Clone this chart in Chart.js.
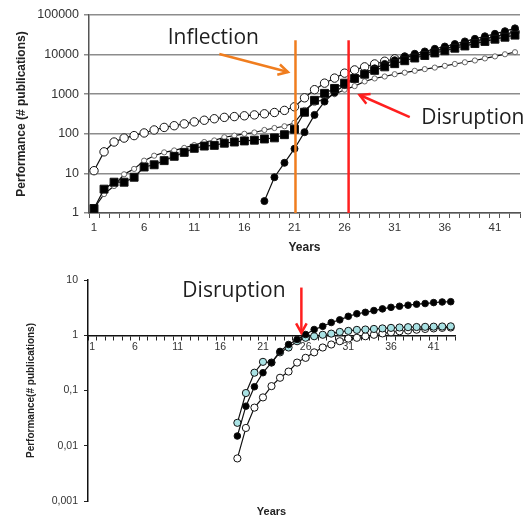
<!DOCTYPE html>
<html>
<head>
<meta charset="utf-8">
<script src="https://cdn.jsdelivr.net/npm/chart.js@4.4.0/dist/chart.umd.min.js"></script>
<style>
  body { margin: 0; background: #fff; }
  #wrap { position: relative; width: 529px; height: 520px; }
  .box { position: absolute; left: 0; width: 529px; }
  #top { top: 0; height: 262px; }
  #bottom { top: 265px; height: 255px; }
</style>
</head>
<body>
<div id="wrap">
  <div class="box" id="top"><canvas id="topChart"></canvas></div>
  <div class="box" id="bottom"><canvas id="bottomChart"></canvas></div>
</div>
<script>
// ---- data ----
var years = ['1','2','3','4','5','6','7','8','9','10','11','12','13','14','15','16','17','18','19','20','21',
  '22','23','24','25','26','27','28','29','30','31','32','33','34','35','36','37','38','39','40','41','42','43'];

// top chart: publications, log scale
var openCircles = [11.7, 35, 62, 78, 90, 105, 125, 145, 160, 178, 200, 220, 240, 260, 272, 285, 300, 320, 345, 390, 480,
  810, 1300, 1900, 2550, 3400, 4100, 4900, 5800, 6800, 7800, 8600, 9400, 10700, 12400, 14100, 16300, 18800, 21800, 25000, 28700, 32700, 37800];
var smallCircles = [1.3, 3, 4.8, 9.5, 13, 21, 28, 34, 38, 44, 52, 62, 68, 82, 90, 100, 108, 125, 140, 155, 190,
  400, 600, 780, 1000, 1300, 1600, 2100, 2500, 2800, 3200, 3500, 3900, 4300, 4700, 5200, 5800, 6400, 7100, 8000, 9000, 10200, 11500];
var blackSquares = [1.3, 4, 6, 6, 8, 14.5, 16.5, 21, 27, 34, 43, 49, 51, 58, 62, 66, 69, 74, 79, 95, 130,
  350, 700, 1050, 1400, 1900, 2500, 3200, 4000, 4900, 5900, 7000, 8200, 9500, 11000, 12500, 14500, 16500, 19000, 21500, 24500, 27500, 31000];
var blackCircles = [null, null, null, null, null, null, null, null, null, null, null, null, null, null, null, null, null, 2, 8, 18.5, 42,
  110, 300, 650, 1100, 1700, 2500, 3400, 4500, 5800, 7200, 9000, 10500, 12000, 14000, 16000, 18500, 21500, 25000, 29000, 33500, 39000, 46000];
var topTicks = [1, 10, 100, 1000, 10000, 100000];
var topTickLabels = ['1', '10', '100', '1000', '10000', '100000'];

// bottom chart: relative performance, log scale
var relBlack = [null, null, null, null, null, null, null, null, null, null, null, null, null, null, null, null, null, 0.015, 0.052, 0.117, 0.21,
  0.32, 0.51, 0.68, 0.84, 1.03, 1.27, 1.45, 1.7, 1.9, 2.2, 2.45, 2.6, 2.8, 3.0, 3.2, 3.35, 3.5, 3.65, 3.75, 3.9, 4.0, 4.05];
var relCyan = [null, null, null, null, null, null, null, null, null, null, null, null, null, null, null, null, null, 0.026, 0.09, 0.21, 0.33,
  0.32, 0.49, 0.6, 0.78, 0.9, 0.96, 1.02, 1.07, 1.15, 1.2, 1.25, 1.27, 1.3, 1.33, 1.36, 1.38, 1.4, 1.41, 1.42, 1.43, 1.44, 1.45];
var relOpen = [null, null, null, null, null, null, null, null, null, null, null, null, null, null, null, null, null, 0.0059, 0.021, 0.049, 0.075,
  0.12, 0.17, 0.22, 0.32, 0.39, 0.49, 0.6, 0.68, 0.78, 0.87, 0.9, 0.96, 1.02, 1.08, 1.13, 1.18, 1.22, 1.26, 1.3, 1.33, 1.36, 1.38];
var bottomTicks = [0.001, 0.01, 0.1, 1, 10];
var bottomTickLabels = ['0,001', '0,01', '0,1', '1', '10'];

// annotations, in data units: [year, value]
var inflectionYear = 21.1, disruptionYear = 26.4, markerTop = 23000;

var ORANGE = '#f07d1e', RED = '#ff1f1f';
var AXISFONT = 'Liberation Sans, Arial, sans-serif';
var NOTEFONT = '"Open Sans", "Noto Sans", sans-serif';

// ---- small plugin for lines / arrows / text drawn in data coordinates ----
function arrowHead(ctx, x0, y0, x1, y1, len) {
  var a = Math.atan2(y1 - y0, x1 - x0);
  ctx.beginPath();
  ctx.moveTo(x1 - len * Math.cos(a - 0.5), y1 - len * Math.sin(a - 0.5));
  ctx.lineTo(x1, y1);
  ctx.lineTo(x1 - len * Math.cos(a + 0.5), y1 - len * Math.sin(a + 0.5));
  ctx.stroke();
}

var notesPlugin = {
  id: 'notes',
  afterDatasetsDraw: function(chart, args, opts) {
    var ctx = chart.ctx, xs = chart.scales.x, ys = chart.scales.y;
    var px = function(yr) { return xs.getPixelForValue(yr - 1); };
    var py = function(v) { return ys.getPixelForValue(v); };
    ctx.save();
    ctx.lineCap = 'butt';
    (opts.vlines || []).forEach(function(l) {
      ctx.strokeStyle = l.color; ctx.lineWidth = 2.5;
      ctx.beginPath();
      ctx.moveTo(px(l.year), py(l.from));
      ctx.lineTo(px(l.year), py(l.to));
      ctx.stroke();
    });
    (opts.arrows || []).forEach(function(a) {
      var x0 = px(a.from[0]), y0 = py(a.from[1]), x1 = px(a.to[0]), y1 = py(a.to[1]);
      ctx.strokeStyle = a.color; ctx.lineWidth = 2.5;
      ctx.beginPath(); ctx.moveTo(x0, y0); ctx.lineTo(x1, y1); ctx.stroke();
      arrowHead(ctx, x0, y0, x1, y1, 11);
    });
    (opts.texts || []).forEach(function(t) {
      ctx.fillStyle = '#1e1e1e';
      ctx.font = t.size + 'px ' + NOTEFONT;
      ctx.textAlign = 'center'; ctx.textBaseline = 'middle';
      ctx.fillText(t.text, px(t.at[0]), py(t.at[1]));
    });
    ctx.restore();
  }
};

function series(data, opts) {
  return Object.assign({
    data: data, xAxisID: 'x', yAxisID: 'y',
    borderColor: '#111', borderWidth: 1.2, tension: 0, spanGaps: false,
    pointBorderColor: '#111', pointBorderWidth: 1, pointHoverRadius: 0
  }, opts);
}

// ---- top chart (first dataset is drawn on top) ----
new Chart(document.getElementById('topChart'), {
  type: 'line',
  data: {
    labels: years,
    datasets: [
      series(blackSquares, { pointStyle: 'rect', pointRadius: 5.6, pointBackgroundColor: '#000' }),
      series(blackCircles, { pointStyle: 'circle', pointRadius: 3.5, pointBackgroundColor: '#000' }),
      series(smallCircles, { pointStyle: 'circle', pointRadius: 2.6, pointBackgroundColor: '#fff', pointBorderColor: '#666' }),
      series(openCircles, { pointStyle: 'circle', pointRadius: 4.2, pointBackgroundColor: '#fff' })
    ]
  },
  options: {
    responsive: true, maintainAspectRatio: false, animation: false,
    layout: { padding: { top: 15, right: 9, left: 0, bottom: 0 } },
    plugins: {
      legend: { display: false }, tooltip: { enabled: false },
      notes: {
        vlines: [
          { year: inflectionYear, from: 1, to: markerTop, color: ORANGE },
          { year: disruptionYear, from: 1, to: markerTop, color: RED }
        ],
        arrows: [
          { from: [13.5, 10350], to: [20.35, 3630], color: ORANGE },
          { from: [32.5, 265], to: [27.5, 955], color: RED }
        ],
        texts: [
          { text: 'Inflection', at: [12.9, 26000], size: 21 },
          { text: 'Disruption', at: [38.8, 250], size: 21 }
        ]
      }
    },
    scales: {
      x: {
        offset: true,
        grid: { offset: true, drawOnChartArea: false, tickLength: 5, color: '#555', lineWidth: 1 },
        border: { color: '#555', width: 1.5 },
        ticks: {
          autoSkip: false, maxRotation: 0, padding: 3, color: '#333',
          font: { family: AXISFONT, size: 11.5 },
          callback: function(v, i) { return i % 5 === 0 ? this.getLabelForValue(v) : ''; }
        },
        title: { display: true, text: 'Years', color: '#222', font: { family: AXISFONT, size: 12, weight: 'bold' }, padding: { top: 0, bottom: 7 } },
        afterFit: function(s) { s.height = 49; }
      },
      y: {
        type: 'logarithmic', min: 1, max: 100000,
        afterBuildTicks: function(s) { s.ticks = topTicks.map(function(v) { return { value: v }; }); },
        ticks: {
          padding: 5, color: '#333', font: { family: AXISFONT, size: 12.5 },
          callback: function(v) { return topTickLabels[topTicks.indexOf(v)]; }
        },
        grid: { color: '#8c8c8c', lineWidth: 1.5, tickLength: 5 },
        border: { color: '#555', width: 1.5 },
        title: { display: true, text: 'Performance (# publications)', color: '#222', font: { family: AXISFONT, size: 12, weight: 'bold' }, padding: { top: 14, bottom: 0 } },
        afterFit: function(s) { s.width = 89; }
      }
    }
  },
  plugins: [notesPlugin]
});

// ---- bottom chart ----
new Chart(document.getElementById('bottomChart'), {
  type: 'line',
  data: {
    labels: years,
    datasets: [
      series(relBlack, { pointStyle: 'circle', pointRadius: 3.3, pointBackgroundColor: '#000' }),
      series(relCyan, { pointStyle: 'circle', pointRadius: 3.6, pointBackgroundColor: '#a9e2e4' }),
      series(relOpen, { pointStyle: 'circle', pointRadius: 3.6, pointBackgroundColor: '#fff' })
    ]
  },
  options: {
    responsive: true, maintainAspectRatio: false, animation: false,
    layout: { padding: { top: 15, right: 74, left: 0, bottom: 0 } },
    plugins: {
      legend: { display: false }, tooltip: { enabled: false },
      notes: {
        arrows: [ { from: [25.5, 7.3], to: [25.5, 1.1], color: RED } ],
        texts: [ { text: 'Disruption', at: [17.6, 6.2], size: 21 } ]
      }
    },
    scales: {
      x: {
        axis: 'x', position: { y: 1 }, offset: true,
        grid: { offset: true, drawOnChartArea: false, tickLength: 4, color: '#222', lineWidth: 1 },
        border: { color: '#111', width: 1.5 },
        ticks: {
          autoSkip: false, maxRotation: 0, padding: 2, color: '#333',
          font: { family: AXISFONT, size: 10.5 },
          callback: function(v, i) { return i % 5 === 0 ? this.getLabelForValue(v) : ''; }
        },
        afterFit: function(s) { s.height = 0; }
      },
      x2: {
        axis: 'x', type: 'category', position: 'bottom',
        ticks: { display: false }, grid: { display: false }, border: { display: false },
        title: { display: true, text: 'Years', color: '#222', font: { family: AXISFONT, size: 11, weight: 'bold' }, padding: { top: 0, bottom: 1 } },
        afterFit: function(s) { s.height = 19; }
      },
      y: {
        type: 'logarithmic', min: 0.001, max: 10,
        afterBuildTicks: function(s) { s.ticks = bottomTicks.map(function(v) { return { value: v }; }); },
        ticks: {
          padding: 6, color: '#333', font: { family: AXISFONT, size: 10.5 },
          callback: function(v) { return bottomTickLabels[bottomTicks.indexOf(v)]; }
        },
        grid: { drawOnChartArea: false, tickLength: 4, color: '#222' },
        border: { color: '#111', width: 1.5 },
        title: { display: true, text: 'Performance(# publications)', color: '#222', font: { family: AXISFONT, size: 10, weight: 'bold' }, padding: { top: 25, bottom: 0 } },
        afterFit: function(s) { s.width = 88; }
      }
    }
  },
  plugins: [notesPlugin]
});
</script>
</body>
</html>
